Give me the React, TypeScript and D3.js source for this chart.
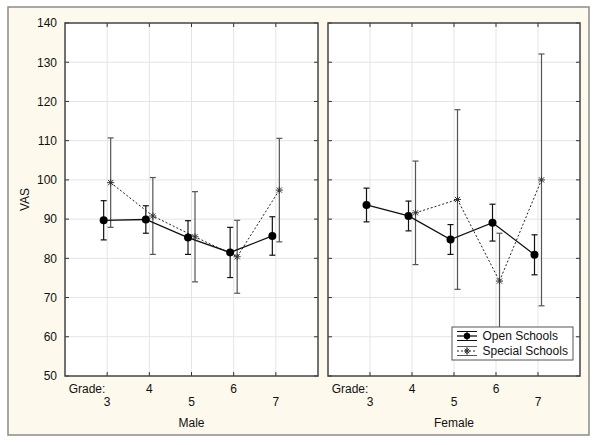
import React from "react";
import * as d3 from "d3";

const grades = [3, 4, 5, 6, 7];
const yTicks = [50, 60, 70, 80, 90, 100, 110, 120, 130, 140];

const maleOpen = [89.7, 89.9, 85.3, 81.5, 85.7];
const maleOpenErr = [5.0, 3.5, 4.3, 6.4, 4.9];
const maleSpecial = [99.3, 90.8, 85.5, 80.4, 97.4];
const maleSpecialErr = [11.4, 9.8, 11.5, 9.3, 13.2];

const femaleOpen = [93.6, 90.8, 84.8, 89.1, 80.9];
const femaleOpenErr = [4.3, 3.8, 3.8, 4.7, 5.1];
const femaleSpecial: (number | null)[] = [null, 91.6, 95.0, 74.2, 100.0];
const femaleSpecialErr: (number | null)[] = [null, 13.2, 22.9, 12.2, 32.1];

const panels = [
  { label: "Male", x0: 65, x1: 318, open: maleOpen, openErr: maleOpenErr, special: maleSpecial as (number | null)[], specialErr: maleSpecialErr as (number | null)[] },
  { label: "Female", x0: 328, x1: 580, open: femaleOpen, openErr: femaleOpenErr, special: femaleSpecial, specialErr: femaleSpecialErr },
];

const FONT = "Liberation Sans, Arial, sans-serif";
const y = d3.scaleLinear().domain([50, 140]).range([376, 23]);

function Asterisk({ cx, cy, r = 3.5, color = "#333" }: { cx: number; cy: number; r?: number; color?: string }) {
  const d = r * 0.75;
  return (
    <g stroke={color} strokeWidth={1}>
      <line x1={cx - r} y1={cy} x2={cx + r} y2={cy} />
      <line x1={cx} y1={cy - r} x2={cx} y2={cy + r} />
      <line x1={cx - d} y1={cy - d} x2={cx + d} y2={cy + d} />
      <line x1={cx - d} y1={cy + d} x2={cx + d} y2={cy - d} />
    </g>
  );
}

function Panel({ p }: { p: (typeof panels)[number] }) {
  const x = d3.scaleLinear().domain([2, 8]).range([p.x0, p.x1]);
  const off = 3.5;
  const openPts = grades.map((g, i) => ({ x: x(g) - off, v: p.open[i], e: p.openErr[i] }));
  const specPts = grades
    .map((g, i) => ({ x: x(g) + off, v: p.special[i], e: p.specialErr[i] }))
    .filter((d) => d.v != null) as { x: number; v: number; e: number }[];
  const line = d3.line<{ x: number; v: number }>().x((d) => d.x).y((d) => y(d.v));
  const top = y(140);
  const bot = y(50);
  const cx = (p.x0 + p.x1) / 2;
  return (
    <g>
      <rect x={p.x0} y={top} width={p.x1 - p.x0} height={bot - top} fill="#fff" />
      {yTicks.slice(1, -1).map((t) => (
        <line key={"gy" + t} x1={p.x0} x2={p.x1} y1={y(t)} y2={y(t)} stroke="#e4e4e4" strokeWidth={1} />
      ))}
      {grades.map((g) => (
        <line key={"gx" + g} x1={x(g)} x2={x(g)} y1={top} y2={bot} stroke="#e4e4e4" strokeWidth={1} />
      ))}
      {yTicks.map((t) => (
        <g key={"ty" + t} stroke="#333" strokeWidth={1}>
          <line x1={p.x0} x2={p.x0 + 4} y1={y(t)} y2={y(t)} />
          <line x1={p.x1 - 4} x2={p.x1} y1={y(t)} y2={y(t)} />
        </g>
      ))}
      {grades.map((g) => (
        <g key={"tx" + g} stroke="#333" strokeWidth={1}>
          <line x1={x(g)} x2={x(g)} y1={bot} y2={bot - 4} />
          <line x1={x(g)} x2={x(g)} y1={top} y2={top + 4} />
        </g>
      ))}
      {/* special error bars */}
      {specPts.map((d, i) => (
        <g key={"se" + i} stroke="#555" strokeWidth={1.2}>
          <line x1={d.x} x2={d.x} y1={y(d.v + d.e)} y2={y(d.v - d.e)} />
          <line x1={d.x - 3} x2={d.x + 3} y1={y(d.v + d.e)} y2={y(d.v + d.e)} />
          <line x1={d.x - 3} x2={d.x + 3} y1={y(d.v - d.e)} y2={y(d.v - d.e)} />
        </g>
      ))}
      {/* open error bars */}
      {openPts.map((d, i) => (
        <g key={"oe" + i} stroke="#111" strokeWidth={1.2}>
          <line x1={d.x} x2={d.x} y1={y(d.v + d.e)} y2={y(d.v - d.e)} />
          <line x1={d.x - 3} x2={d.x + 3} y1={y(d.v + d.e)} y2={y(d.v + d.e)} />
          <line x1={d.x - 3} x2={d.x + 3} y1={y(d.v - d.e)} y2={y(d.v - d.e)} />
        </g>
      ))}
      <path d={line(specPts) || ""} fill="none" stroke="#222" strokeWidth={1} strokeDasharray="2,2" />
      <path d={line(openPts) || ""} fill="none" stroke="#111" strokeWidth={1.3} />
      {specPts.map((d, i) => (
        <Asterisk key={"sm" + i} cx={d.x} cy={y(d.v)} />
      ))}
      {openPts.map((d, i) => (
        <circle key={"om" + i} cx={d.x} cy={y(d.v)} r={4} fill="#000" />
      ))}
      <rect x={p.x0} y={top} width={p.x1 - p.x0} height={bot - top} fill="none" stroke="#444" strokeWidth={1.5} />
      <g fontFamily={FONT} fontSize={12} fill="#111">
        <text x={p.x0 + 22} y={392.5} textAnchor="middle">Grade:</text>
        {grades.map((g, i) => (
          <text key={"lx" + g} x={x(g)} y={i % 2 === 0 ? 405.5 : 392.5} textAnchor="middle">
            {g}
          </text>
        ))}
        <text x={cx} y={426.5} textAnchor="middle">{p.label}</text>
      </g>
    </g>
  );
}

export default function App() {
  return (
    <svg width={600} height={445} style={{ position: "absolute", left: 0, top: 0 }}>
      <rect x={0} y={0} width={600} height={445} fill="#fff" />
      <rect x={8} y={7} width={581} height={428} fill="#fdf9ec" stroke="#8a8a8a" strokeWidth={1.5} />
      <g fontFamily={FONT} fontSize={12} fill="#111">
        {yTicks.map((t) => (
          <text key={t} x={57} y={y(t) + 4.3} textAnchor="end">{t}</text>
        ))}
        <text transform={`translate(29,${(y(50) + y(140)) / 2}) rotate(-90)`} textAnchor="middle">VAS</text>
      </g>
      {panels.map((p) => (
        <Panel key={p.label} p={p} />
      ))}
      {/* legend */}
      <g>
        <rect x={452} y={327} width={121} height={33} fill="#fff" stroke="#555" strokeWidth={1} />
        <g stroke="#111" strokeWidth={1}>
          <line x1={457} x2={477} y1={331.5} y2={331.5} />
          <line x1={457} x2={477} y1={340.5} y2={340.5} />
          <line x1={467} x2={467} y1={331.5} y2={340.5} />
          <line x1={457} x2={477} y1={336} y2={336} strokeWidth={1.3} />
        </g>
        <circle cx={467} cy={336} r={3.2} fill="#000" />
        <g stroke="#555" strokeWidth={1}>
          <line x1={457} x2={477} y1={346.5} y2={346.5} />
          <line x1={457} x2={477} y1={355.5} y2={355.5} />
          <line x1={467} x2={467} y1={346.5} y2={355.5} />
        </g>
        <line x1={457} x2={477} y1={351} y2={351} stroke="#222" strokeWidth={1} strokeDasharray="2,2" />
        <Asterisk cx={467} cy={351} r={3} />
        <g fontFamily={FONT} fontSize={12} fill="#111">
          <text x={482.5} y={340.3}>Open Schools</text>
          <text x={482.5} y={355.3}>Special Schools</text>
        </g>
      </g>
    </svg>
  );
}
